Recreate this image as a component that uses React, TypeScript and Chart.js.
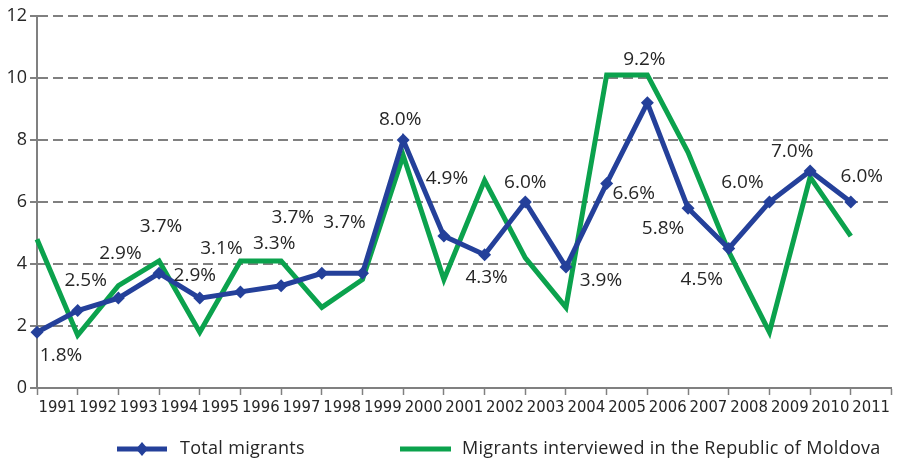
import React, { useEffect, useRef } from "react";
import { Chart, registerables } from "chart.js";

Chart.register(...registerables);

const years = ["1991","1992","1993","1994","1995","1996","1997","1998","1999","2000","2001","2002","2003","2004","2005","2006","2007","2008","2009","2010","2011"];
const totalMigrants = [1.8,2.5,2.9,3.7,2.9,3.1,3.3,3.7,3.7,8.0,4.9,4.3,6.0,3.9,6.6,9.2,5.8,4.5,6.0,7.0,6.0];
const moldovaMigrants = [4.8,1.7,3.3,4.1,1.8,4.1,4.1,2.6,3.5,7.5,3.5,6.7,4.2,2.6,10.1,10.1,7.6,4.4,1.8,6.8,4.9];
const seriesNames = ["Total migrants", "Migrants interviewed in the Republic of Moldova"];
const yTicks = [0, 2, 4, 6, 8, 10, 12];

// label placement (pixel offsets of each data label from its point)
const labelOffsets: [number, number][] = [
  [24, 23], [8, -30], [2, -45], [2, -47], [-5, -23], [-19, -43], [-7, -42],
  [-29, -56], [-18, -51], [-3, -20], [3, -58], [2, 23], [0, -19], [35, 13],
  [27, 10], [-3, -43], [-25, 20], [-27, 31], [-27, -19], [-18, -19], [11, -25],
];

const BLUE = "#24409a";
const GREEN = "#0ba24d";
const GRAY = "#808080";
const TEXT = "#262626";
const FONT = "'Open Sans', 'Noto Sans', sans-serif";
const NARROW = "'Liberation Sans Narrow', 'DejaVu Sans Condensed', sans-serif";

const labelPlugin = {
  id: "dataLabels",
  afterDatasetsDraw(chart: any) {
    const ctx = chart.ctx;
    const meta = chart.getDatasetMeta(0);
    ctx.save();
    ctx.font = `19px ${FONT}`;
    ctx.fillStyle = TEXT;
    ctx.textAlign = "center";
    ctx.textBaseline = "middle";
    meta.data.forEach((pt: any, i: number) => {
      const off = labelOffsets[i] || [0, -20];
      ctx.fillText(`${totalMigrants[i].toFixed(1)}%`, pt.x + off[0], pt.y + off[1]);
    });
    ctx.restore();
  },
};

const legendPlugin = {
  id: "customLegend",
  afterDraw(chart: any) {
    const ctx = chart.ctx;
    const y = 449;
    ctx.save();
    // blue
    ctx.strokeStyle = BLUE;
    ctx.lineWidth = 5;
    ctx.beginPath();
    ctx.moveTo(117, y);
    ctx.lineTo(167, y);
    ctx.stroke();
    ctx.fillStyle = BLUE;
    ctx.beginPath();
    ctx.moveTo(142, y - 7);
    ctx.lineTo(148, y);
    ctx.lineTo(142, y + 7);
    ctx.lineTo(136, y);
    ctx.closePath();
    ctx.fill();
    // green
    ctx.strokeStyle = GREEN;
    ctx.beginPath();
    ctx.moveTo(400, y);
    ctx.lineTo(451, y);
    ctx.stroke();
    ctx.font = `18px ${FONT}`;
    (ctx as any).letterSpacing = "0.3px";
    ctx.fillStyle = TEXT;
    ctx.textAlign = "left";
    ctx.textBaseline = "middle";
    ctx.fillText(seriesNames[0], 180, y);
    ctx.fillText(seriesNames[1], 462, y);
    ctx.restore();
  },
};

export default function App() {
  const ref = useRef<HTMLCanvasElement>(null);
  useEffect(() => {
    if (!ref.current) return;
    const chart = new Chart(ref.current, {
      type: "line",
      data: {
        datasets: [
          {
            label: seriesNames[0],
            data: totalMigrants.map((v, i) => ({ x: i, y: v })),
            borderColor: BLUE,
            backgroundColor: BLUE,
            borderWidth: 5,
            pointStyle: "rectRot",
            pointRadius: 6.5,
            pointBorderWidth: 0,
            pointBackgroundColor: BLUE,
            tension: 0,
            clip: false as any,
          },
          {
            label: seriesNames[1],
            data: moldovaMigrants.map((v, i) => ({ x: i, y: v })),
            borderColor: GREEN,
            backgroundColor: GREEN,
            borderWidth: 5,
            pointRadius: 0,
            tension: 0,
            borderJoinStyle: "miter",
            clip: false as any,
          },
        ],
      },
      options: {
        responsive: false,
        animation: false,
        layout: { padding: { top: 16, right: 2, bottom: 0, left: 0 } },
        plugins: { legend: { display: false }, tooltip: { enabled: false } },
        scales: {
          x: {
            type: "linear",
            min: 0,
            max: 21,
            afterBuildTicks: (scale: any) => {
              const t: any[] = [];
              for (let i = 0; i <= 21; i++) {
                t.push({ value: i });
                if (i < 21) t.push({ value: i + 0.5 });
              }
              scale.ticks = t;
            },
            afterFit: (scale: any) => {
              scale.height = 73;
            },
            ticks: {
              autoSkip: false,
              maxRotation: 0,
              minRotation: 0,
              padding: 3,
              color: TEXT,
              font: { family: NARROW, size: 16.5 },
              callback: (v: any) => (Number.isInteger(v) ? "" : years[Math.floor(v)]),
            },
            grid: {
              display: true,
              drawOnChartArea: false,
              drawTicks: true,
              tickLength: 7,
              tickWidth: 1.5,
              tickColor: (c: any) => (c.tick && Number.isInteger(c.tick.value) ? GRAY : "rgba(0,0,0,0)"),
            },
            border: { display: true, color: GRAY, width: 2 },
          },
          y: {
            type: "linear",
            min: 0,
            max: 12,
            afterBuildTicks: (scale: any) => {
              scale.ticks = yTicks.map((v) => ({ value: v }));
            },
            afterFit: (scale: any) => {
              scale.width = 37;
            },
            ticks: {
              padding: 3,
              color: TEXT,
              font: { family: FONT, size: 18 },
            },
            grid: {
              color: GRAY,
              lineWidth: 2,
              tickLength: 7,
              tickColor: GRAY,
              tickWidth: 2,
              tickBorderDash: [],
            },
            border: { display: true, color: GRAY, width: 2, dash: [10, 5] },
          },
        },
      },
      plugins: [labelPlugin, legendPlugin],
    } as any);
    return () => chart.destroy();
  }, []);
  return (
    <div style={{ position: "fixed", left: 0, top: 0, width: 898, height: 461, background: "#fff" }}>
      <canvas ref={ref} width={898} height={461} />
    </div>
  );
}
